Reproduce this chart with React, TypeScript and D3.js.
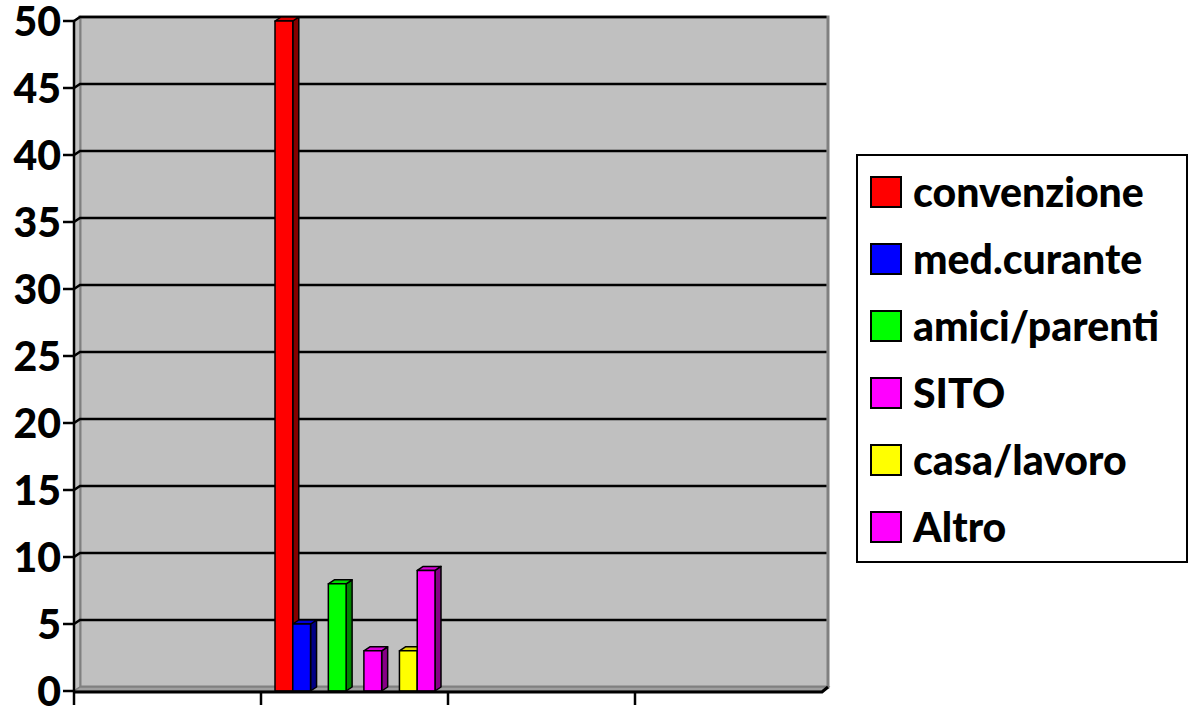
import * as d3 from "d3";

const WIDTH = 1189;
const HEIGHT = 708;

// plot frame (front face of the 3D box)
const PLOT = { left: 74, right: 822, top: 21, bottom: 691 };
const DEPTH = { dx: 6, dy: -4 };

const CATEGORIES = ["1", "2", "3", "4"];

// slots inside a category; null = empty slot (series not in legend)
const SLOTS = ["convenzione", "med.curante", null, "amici/parenti", null, "SITO", null, "casa/lavoro", "Altro"];

const SERIES = ["convenzione", "med.curante", "amici/parenti", "SITO", "casa/lavoro", "Altro"];
const COLORS = ["#ff0000", "#0000ff", "#00ff00", "#ff00ff", "#ffff00", "#ff00ff"];
const VALUES: (number | null)[][] = [
  [null, 50, null, null],
  [null, 5, null, null],
  [null, 8, null, null],
  [null, 3, null, null],
  [null, 3, null, null],
  [null, 9, null, null],
];

const Y_TICKS = [0, 5, 10, 15, 20, 25, 30, 35, 40, 45, 50];
const FONT = "Lato, 'Open Sans', sans-serif";

export default function App() {
  const x = d3.scaleBand<string>().domain(CATEGORIES).range([PLOT.left, PLOT.right]);
  const slot = d3
    .scaleBand<number>()
    .domain(d3.range(SLOTS.length))
    .range([14, x.bandwidth() - 13]);
  const y = d3.scaleLinear().domain([0, 50]).range([PLOT.bottom, PLOT.top]);

  const { dx, dy } = DEPTH;
  const backL = PLOT.left + dx;
  const backR = PLOT.right + dx;
  const backT = PLOT.top + dy;
  const backB = PLOT.bottom + dy;

  const bars: JSX.Element[] = [];
  CATEGORIES.forEach((cat, ci) => {
    SLOTS.forEach((name, si) => {
      if (name === null) return;
      const s = SERIES.indexOf(name);
      const v = VALUES[s][ci];
      if (v === null) return;
      const x0 = (x(cat) ?? 0) + (slot(si) ?? 0);
      const w = slot.bandwidth();
      const y0 = y(v);
      const y1 = y(0);
      const c = d3.color(COLORS[s])!;
      const side = d3.color(COLORS[s])!.darker(1.8).formatHex();
      const top = d3.interpolateRgb(c.formatHex(), "#000")(0.15);
      bars.push(
        <g key={`${ci}-${si}`} stroke="#000" strokeWidth={1.5} strokeLinejoin="round">
          <path d={`M${x0 + w},${y0} L${x0 + w + dx},${y0 + dy} L${x0 + w + dx},${y1 + dy} L${x0 + w},${y1} Z`} fill={side} />
          <path d={`M${x0},${y0} L${x0 + dx},${y0 + dy} L${x0 + w + dx},${y0 + dy} L${x0 + w},${y0} Z`} fill={top} />
          <rect x={x0} y={y0} width={w} height={y1 - y0} fill={c.formatHex()} />
        </g>
      );
    });
  });

  return (
    <svg width={WIDTH} height={HEIGHT} style={{ position: "absolute", left: 0, top: 0 }}>
      <rect width={WIDTH} height={HEIGHT} fill="#fff" />
      {/* back wall */}
      <rect x={backL} y={backT} width={backR - backL} height={backB - backT} fill="#c0c0c0" stroke="#808080" strokeWidth={3} />
      {/* side wall */}
      <path d={`M${PLOT.left},${PLOT.top} L${backL},${backT} L${backL},${backB} L${PLOT.left},${PLOT.bottom} Z`} fill="#c0c0c0" stroke="#808080" strokeWidth={1.5} />
      {/* floor */}
      <path d={`M${PLOT.left},${PLOT.bottom} L${backL},${backB} L${backR},${backB} L${PLOT.right},${PLOT.bottom} Z`} fill="#a0a0a0" stroke="#808080" strokeWidth={1.5} />
      {/* gridlines */}
      {Y_TICKS.filter((t) => t > 0).map((t) => (
        <polyline
          key={t}
          points={`${PLOT.left},${y(t)} ${backL},${y(t) + dy} ${backR - 1.5},${y(t) + dy}`}
          fill="none"
          stroke="#000"
          strokeWidth={2.5}
        />
      ))}
      {bars}
      {/* axes */}
      <line x1={PLOT.left} x2={PLOT.left} y1={PLOT.top} y2={PLOT.bottom + 1} stroke="#000" strokeWidth={2.5} />
      <polyline
        points={`${PLOT.left},${PLOT.bottom + 1} ${PLOT.right},${PLOT.bottom + 1} ${backR},${backB}`}
        fill="none"
        stroke="#000"
        strokeWidth={3}
      />
      {Y_TICKS.map((t) => (
        <g key={t}>
          <line x1={PLOT.left - 11} x2={PLOT.left} y1={y(t)} y2={y(t)} stroke="#000" strokeWidth={2.5} />
          <text
            x={PLOT.left - 13}
            y={y(t)}
            dy="0.36em"
            textAnchor="end"
            fontFamily={FONT}
            fontWeight={900}
            fontSize={41}
          >
            {t}
          </text>
        </g>
      ))}
      {CATEGORIES.map((cat) => (
        <line key={cat} x1={x(cat)} x2={x(cat)} y1={PLOT.bottom + 1} y2={PLOT.bottom + 14} stroke="#000" strokeWidth={2.5} />
      ))}
      {/* legend */}
      <g>
        <rect x={857} y={155} width={330} height={407} fill="#fff" stroke="#000" strokeWidth={2} />
        {SERIES.map((name, i) => (
          <g key={name} transform={`translate(871, ${177 + i * 67})`}>
            <rect width={30} height={30} fill={COLORS[i]} stroke="#000" strokeWidth={2} />
            <text x={42} y={15} dy="0.36em" fontFamily={FONT} fontWeight={900} fontSize={41}>
              {name}
            </text>
          </g>
        ))}
      </g>
    </svg>
  );
}
